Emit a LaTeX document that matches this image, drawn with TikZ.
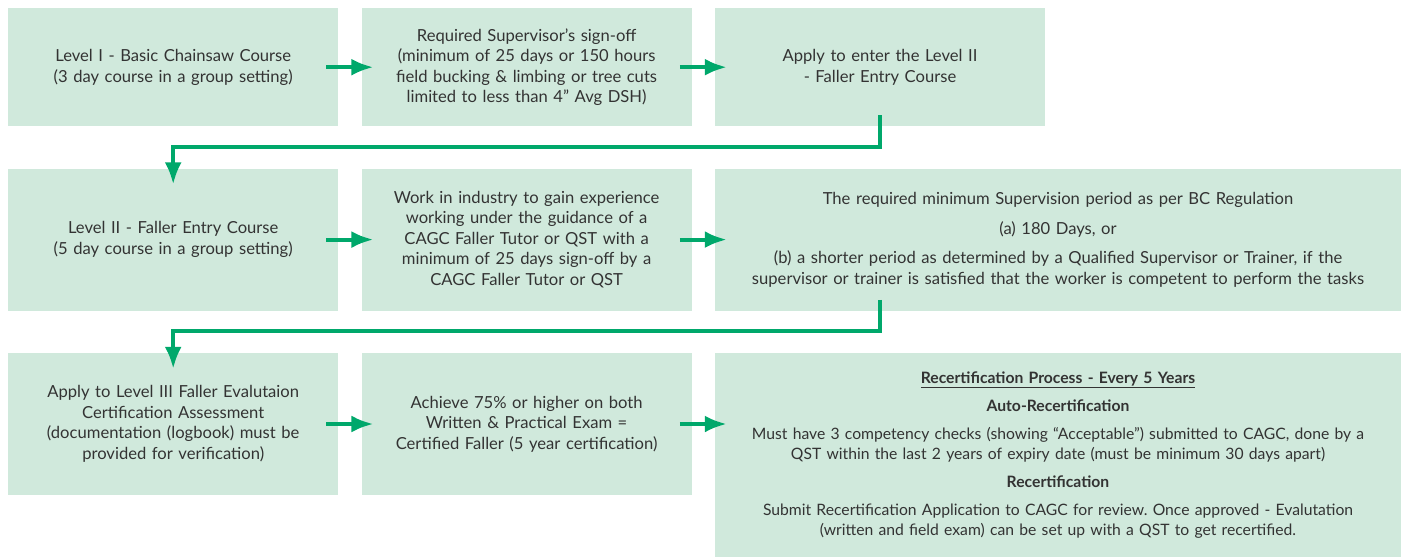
\documentclass[tikz,border=0pt]{standalone}
\usepackage{fontspec}
\setmainfont{Lato}
\frenchspacing
\usetikzlibrary{positioning}
\usetikzlibrary{arrows.meta,calc}
\definecolor{boxfill}{HTML}{D0E9DC}
\definecolor{flowgreen}{HTML}{00A86B}
\definecolor{txtgray}{HTML}{333333}
\tikzstyle{stage} = [fill=boxfill, text=txtgray, align=center, inner sep=0pt,
  minimum width=330pt, text width=330pt, font=\fontsize{16.6}{20.5}\selectfont]
\tikzstyle{widestage} = [stage, minimum width=686pt, text width=686pt]
\tikzstyle{flow} = [draw=flowgreen, line width=4pt, -{Latex[length=22pt,width=17pt]}]

\begin{document}
\begin{tikzpicture}[node distance=23pt]
  \useasboundingbox (0,0) rectangle (1404pt,-557pt);

  % row 1
  \node[stage, minimum height=118pt, anchor=north west] (s1) at (8pt,-8pt)
    {Level I - Basic Chainsaw Course\\(3 day course in a group setting)};
  \node[stage, minimum height=118pt, right=of s1] (s2)
    {Required Supervisor’s sign-off\\(minimum of 25 days or 150 hours\\field bucking \& limbing or tree cuts\\limited to less than 4” Avg DSH)};
  \node[stage, minimum height=118pt, right=of s2] (s3)
    {Apply to enter the Level II\\- Faller Entry Course};

  % row 2
  \node[stage, minimum height=142pt, below=42pt of s1.south west, anchor=north west] (s4)
    {Level II - Faller Entry Course\\(5 day course in a group setting)};
  \node[stage, minimum height=142pt, right=of s4] (s5)
    {Work in industry to gain experience\\working under the guidance of a\\CAGC Faller Tutor or QST with a\\minimum of 25 days sign-off by a\\CAGC Faller Tutor or QST};
  \node[widestage, minimum height=142pt, right=of s5] (s6)
    {The required minimum Supervision period as per BC Regulation\\[9pt]
     (a) 180 Days, or\\[9pt]
     (b) a shorter period as determined by a Qualified Supervisor or Trainer, if the\\
     supervisor or trainer is satisfied that the worker is competent to perform the tasks};

  % row 3
  \node[stage, minimum height=142pt, below=42pt of s4.south west, anchor=north west] (s7)
    {Apply to Level III Faller Evalutaion\\Certification Assessment\\(documentation (logbook) must be\\provided for verification)};
  \node[stage, minimum height=142pt, right=of s7] (s8)
    {Achieve 75\% or higher on both\\Written \& Practical Exam =\\Certified Faller (5 year certification)};
  \node[widestage, minimum height=204pt, right=of s8.north east, anchor=north west,
        font=\fontsize{15.7}{20}\selectfont] (s9)
    {\underline{\textbf{Recertification Process - Every 5 Years}}\\[8pt]
     \textbf{Auto-Recertification}\\[8pt]
     Must have 3 competency checks (showing “Acceptable”) submitted to CAGC, done by a\\
     QST within the last 2 years of expiry date (must be minimum 30 days apart)\\[8pt]
     \textbf{Recertification}\\[8pt]
     Submit Recertification Application to CAGC for review. Once approved - Evalutation\\
     (written and field exam) can be set up with a QST to get recertified.};

  \draw[flow] ([xshift=-12pt]s1.east) -- ([xshift=12pt]s2.west);
  \draw[flow] ([xshift=-12pt]s2.east) -- ([xshift=12pt]s3.west);
  \draw[flow] ([xshift=-12pt]s4.east) -- ([xshift=12pt]s5.west);
  \draw[flow] ([xshift=-12pt]s5.east) -- ([xshift=12pt]s6.west);
  \draw[flow] ([xshift=-12pt]s7.east) -- ([xshift=12pt]s8.west);
  \draw[flow] ([xshift=-12pt]s8.east) -- ($(s8.east -| s9.west)+(12pt,0)$);

  \draw[flow] ([yshift=11pt]s3.south) -- ++(0,-32pt) -| ([yshift=-16pt]s4.north);
  \draw[flow] ($(s3.south |- s6.south)+(0,11pt)$) -- ++(0,-31pt) -| ([yshift=-16pt]s7.north);
\end{tikzpicture}
\end{document}
